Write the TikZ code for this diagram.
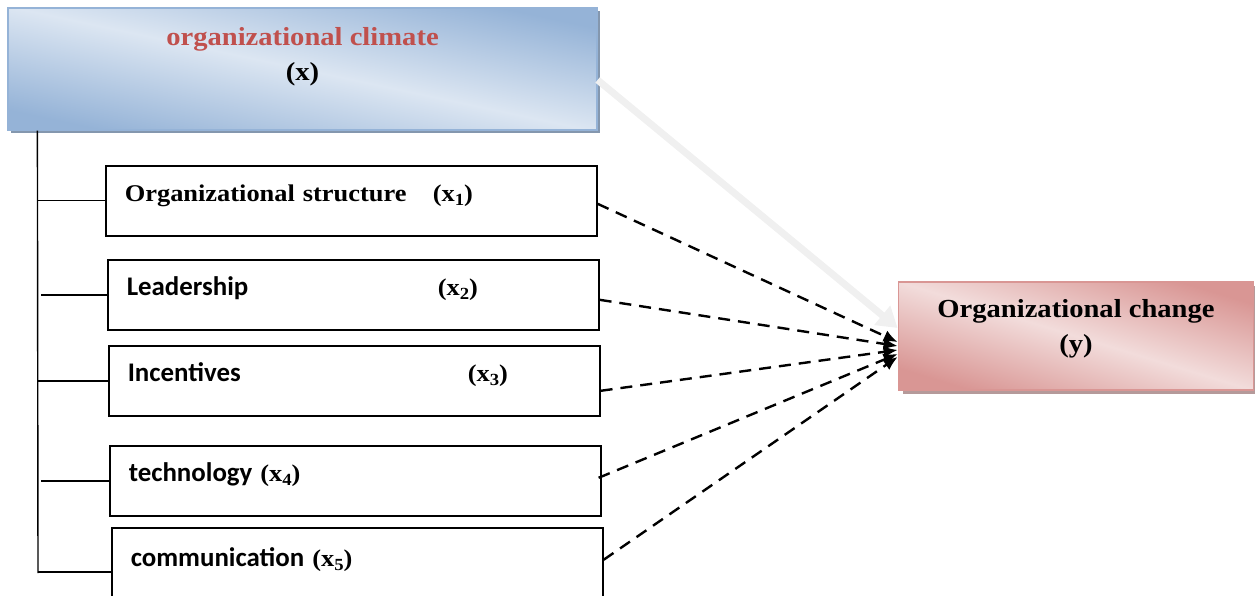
\documentclass[tikz,border=0pt]{standalone}
\usepackage{fontspec}
\setmainfont{Liberation Serif}[FakeStretch=1.1]
\newfontfamily\calfont{Carlito}[Scale=1.12]
\usetikzlibrary{arrows.meta,shadows}
\definecolor{climblue}{HTML}{95B3D7}
\definecolor{climlight}{HTML}{DCE6F2}
\definecolor{climshade}{HTML}{8497AE}
\definecolor{chgpink}{HTML}{D99694}
\definecolor{chglight}{HTML}{F2DCDB}
\definecolor{chgshade}{HTML}{B59A9A}
\definecolor{climred}{HTML}{C0504D}
\newcommand\xsub[1]{\raisebox{-0.3ex}{\fontsize{17}{17}\selectfont #1}}
\tikzset{
  factor/.style={draw, line width=1.6pt, anchor=north west, minimum width=491pt,
    minimum height=70pt, text width=453pt, inner xsep=19pt, align=left,
    text height=17pt, text depth=15pt, font=\fontsize{24}{28}\selectfont\bfseries},
  link/.style={line width=2.4pt, dash pattern=on 12pt off 8pt,
    -{Latex[length=14pt,width=12pt]}},
  branch/.style={line width=1.4pt},
  headtext/.style={align=center, font=\fontsize{26}{35}\selectfont\bfseries},
}
\begin{document}
\begin{tikzpicture}[x=1pt,y=-1pt]
\useasboundingbox (0,0) rectangle (1255,596);
\node[draw=climblue, line width=1.2pt, minimum width=589pt, minimum height=122pt,
  top color=climblue, bottom color=climblue, middle color=climlight, shading angle=-12,
  drop shadow={shadow xshift=3pt, shadow yshift=-3pt, fill=climshade, opacity=1}]
  (climate) at (302.5,69) {};
\node[headtext] (climtext) at ([yshift=12pt]climate.center)
  {\textcolor{climred}{organizational climate}\\(x)};
\node[draw=chgpink, line width=1.8pt, minimum width=355pt, minimum height=108pt,
  top color=chgpink, bottom color=chgpink, middle color=chglight, shading angle=-17,
  drop shadow={shadow xshift=4pt, shadow yshift=-4pt, fill=chgshade, opacity=1}]
  (change) at (1076,336) {};
\node[headtext] (chgtext) at ([yshift=7pt]change.center) {Organizational change\\(y)};

\node[factor] (f1) at (105,165) {\makebox[308pt][l]{Organizational structure}(x\xsub{1})};
\node[factor] (f2) at (107,259) {\makebox[311pt][l]{\calfont Leadership}(x\xsub{2})};
\node[factor] (f3) at (108,345) {\makebox[340pt][l]{\calfont Incentives}(x\xsub{3})};
\node[factor] (f4) at (109,445) {{\calfont technology} (x\xsub{4})};
\node[factor, minimum height=76pt] (f5) at (111,527) {{\calfont communication} (x\xsub{5})};

\coordinate (trunktop) at ([xshift=30pt]climate.south west);
\coordinate (trunkbot) at (38,573);
\draw[branch] (trunktop) -- (trunkbot);
\draw[branch] (f1.west) -- (f1.west -| trunktop);
\draw[branch, shorten >=4pt] (f2.west) -- (f2.west -| trunktop);
\draw[branch] (f3.west) -- (f3.west -| trunktop);
\draw[branch, shorten >=4pt] (f4.west) -- (f4.west -| trunktop);
\draw[branch] ([yshift=-6pt]f5.west) -- ([yshift=-6pt]f5.west -| trunkbot);

\draw[line width=7pt, draw=black!6, -{Triangle[length=20pt,width=24pt]}]
  ([yshift=-11pt]climate.east) -- ([yshift=8pt]change.west);
\draw[link] ([yshift=-3pt]f1.east) -- ([yshift=-6pt]change.west);
\draw[link] ([yshift=-5pt]f2.east) -- ([yshift=-10pt]change.west);
\draw[link] ([yshift=-10pt]f3.east) -- ([yshift=-14pt]change.west);
\draw[link] ([xshift=-3pt,yshift=3pt]f4.east) -- ([yshift=-18pt]change.west);
\draw[link] ([yshift=6pt]f5.east) -- ([yshift=-21pt]change.west);
\end{tikzpicture}
\end{document}
